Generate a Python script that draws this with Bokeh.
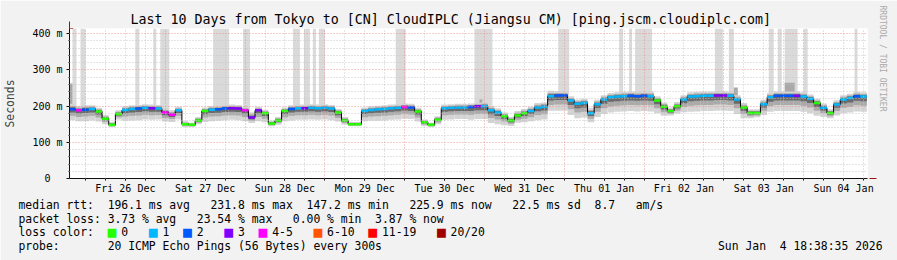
from bokeh.plotting import figure
from bokeh.models import FixedTicker, Arrow, NormalHead, Range1d, Title
from bokeh.embed import file_html
from bokeh.resources import INLINE

# ---------------- data ----------------
title_text = "Last 10 Days from Tokyo to [CN] CloudIPLC (Jiangsu CM) [ping.jscm.cloudiplc.com]"
day_labels = ["Fri 26 Dec", "Sat 27 Dec", "Sun 28 Dec", "Mon 29 Dec", "Tue 30 Dec",
              "Wed 31 Dec", "Thu 01 Jan", "Fri 02 Jan", "Sat 03 Jan", "Sun 04 Jan"]
y_tick_values = [0, 100, 200, 300, 400]
y_tick_labels = ["0\u00a0\u00a0", "100 m", "200 m", "300 m", "400 m"]

# hours since Fri 26 Dec 00:00, one RRD step every 2 hours
step_hours = list(range(-4, 236, 2))
median_ms = [191, 188, 190, 192, 185, 165, 148, 178, 189, 192,
             193, 195, 194, 193, 182, 176, 188, 150, 148, 160,
             186, 190, 191, 193, 194, 193, 188, 168, 188, 180,
             152, 160, 186, 192, 194, 194, 195, 194, 195, 193,
             182, 160, 150, 150, 186, 189, 191, 192, 194, 195,
             197, 196, 185, 155, 148, 162, 194, 195, 196, 196,
             197, 199, 199, 188, 182, 172, 160, 174, 180, 186,
             196, 198, 227, 229, 229, 215, 206, 208, 180, 205,
             218, 224, 226, 227, 228, 227, 228, 227, 215, 198,
             186, 199, 218, 226, 227, 228, 228, 229, 229, 228,
             218, 196, 181, 181, 205, 224, 228, 228, 228, 228,
             226, 220, 208, 195, 181, 204, 218, 222, 227, 226]
loss_class = [2, 4, 2, 1, 0, 0, 0, 0, 1, 1,
              2, 1, 3, 1, 4, 4, 1, 0, 0, 0,
              0, 1, 2, 2, 3, 3, 4, 3, 3, 0,
              0, 0, 0, 2, 1, 3, 1, 1, 1, 1,
              0, 0, 0, 0, 1, 1, 1, 1, 1, 1,
              4, 2, 0, 0, 0, 0, 1, 1, 1, 1,
              2, 3, 1, 1, 1, 0, 0, 0, 0, 1,
              1, 1, 1, 2, 2, 1, 1, 1, 1, 1,
              1, 1, 1, 1, 2, 2, 2, 1, 0, 0,
              0, 0, 1, 1, 1, 1, 1, 3, 3, 1,
              1, 0, 0, 0, 1, 1, 2, 2, 2, 3,
              1, 1, 0, 1, 0, 1, 1, 1, 2, 1]
smoke_down = [30, 30, 32, 32, 28, 15, 6, 15, 30, 32,
              32, 32, 32, 30, 25, 20, 25, 8, 6, 10,
              30, 32, 32, 32, 32, 32, 30, 15, 30, 25,
              8, 12, 28, 32, 32, 32, 32, 32, 32, 32,
              25, 12, 6, 6, 28, 30, 32, 32, 32, 32,
              32, 32, 28, 10, 6, 12, 32, 32, 32, 32,
              35, 35, 35, 35, 32, 25, 15, 20, 25, 28,
              35, 35, 40, 42, 42, 40, 40, 40, 25, 35,
              40, 42, 42, 42, 42, 42, 42, 42, 35, 25,
              12, 20, 35, 42, 42, 42, 42, 42, 42, 42,
              40, 30, 15, 12, 30, 40, 42, 42, 42, 42,
              42, 40, 35, 25, 15, 30, 38, 40, 42, 42]
smoke_up = [15, 12, 12, 10, 10, 10, 8, 10, 10, 10,
            10, 10, 10, 10, 12, 12, 10, 8, 6, 10,
            10, 10, 10, 10, 10, 10, 10, 15, 10, 10,
            8, 10, 10, 10, 10, 10, 10, 10, 10, 10,
            10, 10, 6, 6, 10, 10, 10, 10, 10, 10,
            10, 10, 10, 8, 6, 10, 10, 10, 10, 10,
            10, 10, 12, 12, 12, 10, 10, 12, 12, 12,
            12, 12, 15, 12, 12, 12, 12, 12, 15, 12,
            12, 12, 12, 12, 12, 12, 12, 12, 12, 12,
            10, 12, 12, 12, 12, 12, 12, 12, 12, 12,
            12, 12, 10, 10, 12, 12, 12, 12, 12, 12,
            12, 12, 12, 12, 10, 12, 12, 12, 12, 12]
# periods where lost pings push the smoke to the top of the graph (hours)
loss_bar_start = [-3.9, -1.5, 15.0, 20.4, 22.5, 38.4, 47.4, 62.4, 65.7, 68.4, 70.2, 93.3,
                  117.0, 142.2, 160.5, 163.5, 165.3, 189.3, 193.5, 205.5, 208.2, 210.3, 216.0, 231.3]
loss_bar_end = [-2.7, 0.0, 16.2, 21.3, 25.2, 43.2, 49.5, 64.5, 67.5, 69.3, 72.0, 96.3,
                122.4, 145.5, 161.7, 164.4, 170.4, 191.7, 195.0, 207.0, 209.4, 214.2, 217.2, 232.2]
# single high pings (ms)
spike_start = [-4.8, 118.5, 195.0, 210.3]
spike_end = [-3.9, 119.4, 196.2, 213.3]
spike_top = [262, 218, 251, 264]

loss_labels = ["0", "1", "2", "3", "4-5", "6-10", "11-19", "20/20"]
loss_colors = ["#26ff00", "#00b8ff", "#0059ff", "#7e00ff", "#ff00ff", "#ff5500", "#ff0000", "#a10000"]

rtt_head = "median rtt:"
rtt_stats = ["196.1 ms avg", "231.8 ms max", "147.2 ms min", "225.9 ms now", "22.5 ms sd", "8.7", "am/s"]
loss_head = "packet loss:"
loss_stats = ["3.73 % avg", "23.54 % max", "0.00 % min", "3.87 % now"]
color_head = "loss color:"
probe_head = "probe:"
probe_text = "20 ICMP Echo Pings (56 Bytes) every 300s"
stamp_text = "Sun Jan  4 18:38:35 2026"
credit_text = "RRDTOOL / TOBI OETIKER"

# ---------------- layout constants ----------------
W, H = 897, 260
FL, FR, FT, FB = 67, 867, 28, 178          # frame edges in canvas pixels
MONO = "DejaVu Sans Mono"
LEG_SIZE = 11.4
CW = LEG_SIZE * 0.60205                     # advance of one monospace character
TXT_H = 15.0                                # layout height of an 11.4px text line
SW_SIZE = 11.5                              # font size of the colour swatch glyph
TEXT_X0 = 16
BG = "#f2f2f2"
NB = "\u00a0"
X0, X1 = -4.8, 235.2
Y1 = 400 * (FB - FT) / 145.0

p = figure(width=W, height=H, output_backend="svg", toolbar_location=None, title=None,
           x_range=Range1d(X0, X1), y_range=Range1d(0, Y1),
           min_border_left=FL, min_border_right=W - FR, min_border_top=FT, min_border_bottom=H - FB,
           background_fill_color="white", border_fill_color=BG)
p.outline_line_color = None

p.add_layout(Title(text=title_text, align="left", offset=61, standoff=3, vertical_align="bottom",
                   text_font=MONO, text_font_size="13.3px", text_font_style="normal",
                   text_color="black"), "above")
p.add_layout(Title(text=credit_text, align="left", offset=-23, standoff=17, vertical_align="top",
                   text_font=MONO, text_font_size="8px", text_font_style="normal",
                   text_color="#a9a9a9"), "right")

# ---------------- axes / grid ----------------
midnights = list(range(0, 236, 24))
noons = [h + 12 for h in midnights]
six_hourly = [h for h in range(6, 236, 6) if h % 24]
y_minor = [v for v in range(20, 414, 20) if v % 100]

p.xaxis.ticker = FixedTicker(ticks=noons, minor_ticks=six_hourly + midnights)
p.xaxis.major_label_overrides = {h: lab for h, lab in zip(noons, day_labels)}
p.xgrid.ticker = FixedTicker(ticks=midnights, minor_ticks=six_hourly)
p.yaxis.ticker = FixedTicker(ticks=y_tick_values, minor_ticks=y_minor)
p.yaxis.major_label_overrides = {v: lab for v, lab in zip(y_tick_values, y_tick_labels)}
p.ygrid.ticker = FixedTicker(ticks=y_tick_values, minor_ticks=y_minor)

for ax in (p.xaxis[0], p.yaxis[0]):
    ax.axis_line_color = "#111111"
    ax.major_tick_line_color = "#111111"
    ax.minor_tick_line_color = "#111111"
    ax.major_label_text_font = MONO
    ax.major_label_text_font_size = "10px"
    ax.major_label_text_color = "black"
p.xaxis.major_tick_out = 2
p.xaxis.major_tick_in = 0
p.xaxis.minor_tick_out = 2
p.xaxis.minor_tick_in = 0
p.xaxis.major_label_standoff = 2
p.yaxis.major_tick_out = 3
p.yaxis.major_tick_in = 0
p.yaxis.minor_tick_out = 1
p.yaxis.minor_tick_in = 0
p.yaxis.major_label_standoff = 4
p.yaxis.axis_label = "Seconds"
p.yaxis.axis_label_text_font = MONO
p.yaxis.axis_label_text_font_size = "11.4px"
p.yaxis.axis_label_text_font_style = "normal"
p.yaxis.axis_label_standoff = 12

for g in (p.xgrid[0], p.ygrid[0]):
    g.level = "annotation"
    g.grid_line_color = "#ea8a8a"
    g.grid_line_dash = "1 2"
    g.grid_line_alpha = 0.85
    g.minor_grid_line_color = "#c4c4c4"
    g.minor_grid_line_dash = "1 2"
    g.minor_grid_line_alpha = 0.9

# ---------------- marks ----------------
half = 1.0
def med_at(h):
    i = min(range(len(step_hours)), key=lambda k: abs(step_hours[k] - h))
    return median_ms[i]

p.quad(left=loss_bar_start, right=loss_bar_end,
       bottom=[med_at((a + b) / 2) for a, b in zip(loss_bar_start, loss_bar_end)],
       top=[Y1] * len(loss_bar_start), fill_color="#dadada", line_color=None)
p.quad(left=spike_start, right=spike_end,
       bottom=[med_at((a + b) / 2) for a, b in zip(spike_start, spike_end)],
       top=spike_top, fill_color="#a9a9a9", line_color=None)

lefts = [h - half for h in step_hours]
rights = [h + half for h in step_hours]
layers = [(1.0, 1.0, "#d4d4d4"), (0.6, 0.6, "#aaaaaa"), (0.3, 0.35, "#6a6a6a")]
for fd, fu, col in layers:
    p.quad(left=lefts, right=rights,
           bottom=[m - fd * d for m, d in zip(median_ms, smoke_down)],
           top=[m + fu * u for m, u in zip(median_ms, smoke_up)],
           fill_color=col, line_color=None)

p.step(x=step_hours, y=median_ms, mode="center", line_color="black", line_width=1)
p.segment(x0=lefts, x1=rights, y0=median_ms, y1=median_ms,
          line_color=[loss_colors[c] for c in loss_class], line_width=2.5)

arrow_col = "#9a1010"
p.add_layout(Arrow(end=NormalHead(size=7, fill_color=arrow_col, line_color=arrow_col),
                   x_start=0, y_start=FB - FT - 1, x_end=0, y_end=FB - FT + 7,
                   start_units="screen", end_units="screen", line_color=arrow_col, line_width=1))
p.add_layout(Arrow(end=NormalHead(size=7, fill_color=arrow_col, line_color=arrow_col),
                   x_start=FR - FL - 1, y_start=0, x_end=FR - FL + 7, y_end=0,
                   start_units="screen", end_units="screen", line_color=arrow_col, line_width=1))

# ---------------- legend rows below the x axis ----------------
def joined(parts, gaps):
    out, cols = parts[0], [0]
    for g, s in zip(gaps, parts[1:]):
        out += NB * g
        cols.append(len(out))
        out += s
    return out, cols

row1, _ = joined([rtt_head] + rtt_stats, [2, 3, 2, 3, 3, 2, 3])
row2, _ = joined([loss_head] + loss_stats, [1, 3, 3, 2])
row3, cols3 = joined([color_head] + loss_labels, [4, 5, 4, 5, 4, 5, 4, 5])
row4, _ = joined([probe_head, probe_text, stamp_text.replace(" ", NB)], [7, 49])

def line_title(txt, height, x=TEXT_X0, size=LEG_SIZE, color="black", font=MONO, valign="bottom"):
    # a stacked text line whose layout height is `height` pixels
    h_txt = TXT_H * size / LEG_SIZE
    return Title(text=txt, align="left", offset=x - FL, standoff=height - 2 - h_txt,
                 vertical_align=valign, text_font=font, text_font_size=f"{size}px",
                 text_font_style="normal", text_color=color)

p.add_layout(line_title(row1, TXT_H), "below")
p.add_layout(line_title(row2, TXT_H), "below")
p.add_layout(line_title(NB, 8), "below")
p.add_layout(line_title(row3, 0, valign="middle"), "below")
for c, col in zip(cols3[1:], loss_colors):
    sq_left = TEXT_X0 + c * CW - 13
    p.add_layout(line_title("\u25a0", 0, x=sq_left - 1.9, size=SW_SIZE, color=col,
                            font="DejaVu Sans", valign="middle"), "below")
p.add_layout(line_title(NB, 7), "below")
p.add_layout(line_title(row4, TXT_H), "below")

open("out.html", "w").write(file_html(p, INLINE))
